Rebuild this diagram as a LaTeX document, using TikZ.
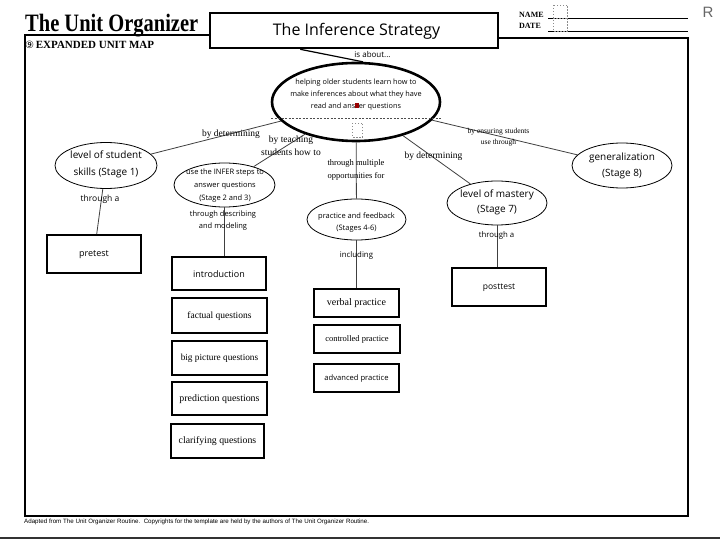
\documentclass[tikz,border=0pt]{standalone}
\usepackage{fontspec}
\setmainfont{Liberation Serif}
\newfontfamily\comic{Open Sans}
\newfontfamily\arialf{Liberation Sans}
\newfontfamily\symf{DejaVu Sans}
\usetikzlibrary{shapes.geometric,calc}
\newcommand{\cf}[2]{\comic\fontsize{#1}{#2}\selectfont}
\newcommand{\serf}[2]{\fontsize{#1}{#2}\selectfont}
\tikzset{
  ell/.style={ellipse, draw, line width=0.8pt, inner sep=0pt},
  box/.style={draw, line width=1.8pt, inner sep=0pt},
  conn/.style={line width=0.8pt, draw=black!75},
  lbl/.style={inner sep=0pt, align=center},
}
\begin{document}
\begin{tikzpicture}[x=1pt,y=-1pt]
\useasboundingbox (0,0) rectangle (720,540);
\fill[white] (0,0) rectangle (720,540);
% frame
\draw[line width=2pt] (210,35) -- (25,35) -- (25,516) -- (688,516) -- (688,38) -- (499,38);
\draw[line width=2pt, black!80] (0,538) -- (720,538);
% header
\node[anchor=base west, inner sep=0pt] (uo) at (25,31.7) {\scalebox{0.82}[1]{\bfseries\serf{25}{25}The Unit Organizer}};
\node[anchor=base west, inner sep=0pt] (eum) at (25,48.5) {{\symf\fontsize{10}{10}\selectfont ⑨}\,{\bfseries\serf{11}{11}EXPANDED UNIT MAP}};
\node[draw, line width=2.6pt, fill=white, minimum width=288, minimum height=35, inner sep=0pt] (title) at (354,30.5) {};
\node[lbl, font=\cf{16}{16}, anchor=base] (titlet) at (356.5,36) {The Inference Strategy};
\node[anchor=base west, inner sep=0pt, font=\bfseries\serf{8}{8}] (name) at (519,17.5) {NAME};
\node[anchor=base west, inner sep=0pt, font=\bfseries\serf{8}{8}] (date) at (519,28.5) {DATE};
\draw[line width=0.6pt] (548,18) -- (688,18);
\draw[line width=0.6pt] (548,31) -- (688,31);
\draw[dashed, black!45, line width=0.5pt, dash pattern=on 1.5pt off 1.5pt] (553,5) rectangle (567,31) (553,18.5) -- (567,18.5);
\node[text=black!60, font=\arialf\fontsize{15}{15}\selectfont, inner sep=0pt] (rr) at (708,12.5) {R};
% main ellipse
\node[ellipse, draw, line width=2.6pt, minimum width=168, minimum height=78, inner sep=0pt] (main) at (356,102) {};
\draw[dashed, black!70, line width=0.6pt, dash pattern=on 2pt off 1.5pt] (271,118) -- (441,118);
\draw[dashed, black!45, line width=0.5pt, dash pattern=on 1.5pt off 1.5pt] (352,123) rectangle (362.5,137);
\node[lbl, font=\cf{7.3}{12}] (maint) at (356,94.6) {helping older students learn how to\\make inferences about what they have\\read and ans\textcolor{red!60!black}{\rule{3.5pt}{5pt}}er questions};
\coordinate (tb) at ($(title.south west)!0.315!(title.south east)$);
\draw[line width=1.2pt] (tb) -- (main.80);
\node[lbl, font=\cf{8}{8}] (isab) at (372.5,55) {is about...};
% level 1 ellipses
\node[ell, minimum width=102, minimum height=46] (s1) at (106,165.5) {};
\node[lbl, font=\cf{10}{16.5}] (s1t) at (106,164.5) {level of student\\skills (Stage 1)};
\node[ell, minimum width=101, minimum height=44] (infer) at (224.5,185) {};
\node[lbl, font=\cf{7.5}{13}] (infert) at (225,186) {use the INFER steps to\\answer questions\\(Stage 2 and 3)};
\node[ell, minimum width=99, minimum height=41] (prac) at (356.5,219.5) {};
\node[lbl, font=\cf{7.5}{12}] (pract) at (356.5,222.5) {practice and feedback\\(Stages 4-6)};
\node[ell, minimum width=100, minimum height=44] (mast) at (497,203) {};
\node[lbl, font=\cf{10}{15}] (mastt) at (497,202.5) {level of mastery\\(Stage 7)};
\node[ell, minimum width=100, minimum height=45] (gen) at (622,165.5) {};
\node[lbl, font=\cf{10}{16}] (gent) at (622,166) {generalization\\(Stage 8)};
% boxes
\node[box, minimum width=94, minimum height=38] (pre) at (94,254) {};
\node[lbl, font=\cf{9}{9}] (pret) at (94,254.5) {pretest};
\node[box, minimum width=94, minimum height=38] (post) at (499,287) {};
\node[lbl, font=\cf{8.5}{8.5}] (postt) at (499,287.5) {posttest};
\node[box, minimum width=94, minimum height=33] (intro) at (219,273.5) {};
\node[lbl, font=\cf{9}{9}] (introt) at (219,274) {introduction};
\node[box, minimum width=95, minimum height=35] (fact) at (219.5,315.5) {};
\node[lbl, font=\serf{9.5}{9.5}] (factt) at (219.5,316) {factual questions};
\node[box, minimum width=95, minimum height=34] (big) at (219.5,358) {};
\node[lbl, font=\serf{9.3}{9.3}] (bigt) at (219.5,358.5) {big picture questions};
\node[box, minimum width=95, minimum height=33] (pred) at (219.5,398.5) {};
\node[lbl, font=\serf{9.9}{9.9}] (predt) at (219.5,399) {prediction questions};
\node[box, minimum width=93, minimum height=34] (clar) at (217.5,441) {};
\node[lbl, font=\serf{9.8}{9.8}] (clart) at (217.5,441.5) {clarifying questions};
\node[box, minimum width=85, minimum height=28] (verb) at (356.5,303) {};
\node[lbl, font=\serf{10}{10}] (verbt) at (356.5,303.5) {verbal practice};
\node[box, minimum width=86, minimum height=28] (ctrl) at (357,339) {};
\node[lbl, font=\serf{8.5}{8.5}] (ctrlt) at (357,339.5) {controlled practice};
\node[box, minimum width=85, minimum height=28] (adv) at (356.5,378) {};
\node[lbl, font=\cf{7.6}{7.6}] (advt) at (356.5,378.5) {advanced practice};
% connectors
\draw[conn] (main) -- (s1);
\draw[conn] (main) -- (infer);
\draw[conn] (main) -- (prac);
\draw[conn] (main) -- (mast);
\draw[conn] (main) -- (gen);
\draw[conn] (s1) -- (pre);
\draw[conn] (infer.south) -- (infer.south |- intro.north);
\draw[conn] (prac) -- (verb);
\draw[conn] (mast.south) -- (mast.south |- post.north);
% labels
\node[lbl, font=\serf{9.5}{9.5}] (l1) at (231,134) {by determining};
\node[lbl, font=\serf{9.5}{12.5}] (l2) at (291,146) {by teaching\\students how to};
\node[lbl, font=\serf{8.5}{13}] (l3) at (356,169.5) {through multiple\\opportunities for};
\node[lbl, font=\serf{9.5}{9.5}] (l4) at (433.5,156) {by determining};
\node[lbl, font=\serf{7.5}{11}] (l5) at (498.5,137) {by ensuring students\\use through};
\node[lbl, font=\cf{8.5}{8.5}] (l6) at (100,199) {through a};
\node[lbl, font=\cf{7.5}{12.5}] (l7) at (223,220.5) {through describing\\and modeling};
\node[lbl, font=\cf{7.8}{7.8}] (l8) at (356.5,255.7) {including};
\node[lbl, font=\cf{7.8}{7.8}] (l9) at (496.5,235.7) {through a};
% footer
\node[anchor=west, inner sep=0pt, font=\arialf\fontsize{6.2}{6.2}\selectfont] (foot) at (24,522) {Adapted from The Unit Organizer Routine.\ \ Copyrights for the template are held by the authors of The Unit Organizer Routine.};
\end{tikzpicture}
\end{document}
